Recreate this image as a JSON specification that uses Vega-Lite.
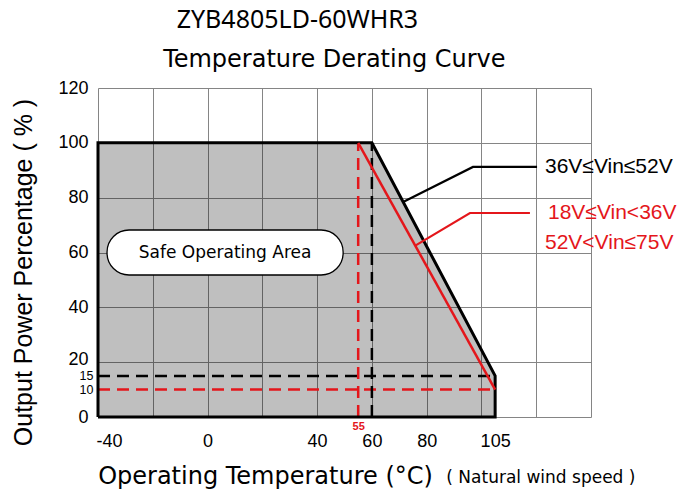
{
  "$schema": "https://vega.github.io/schema/vega-lite/v6.json",
  "width": 493,
  "height": 329,
  "autosize": {"type": "none"},
  "padding": {"left": 98, "top": 88, "right": 90, "bottom": 77},
  "background": "white",
  "config": {"view": {"stroke": null}},
  "layer": [
    {
      "data": {"values": [
        {"t": -40, "p": 100},
        {"t": 60, "p": 100},
        {"t": 105, "p": 15}
      ]},
      "mark": {"type": "area", "fill": "black", "fillOpacity": 0.25},
      "encoding": {
        "x": {
          "field": "t", "type": "quantitative",
          "scale": {"domain": [-40, 140], "nice": false, "zero": false},
          "axis": {
            "title": "Operating Temperature (°C)",
            "values": [-40, -20, 0, 20, 40, 55, 60, 80, 100, 105, 120, 140],
            "labelExpr": "indexof([-40, 0, 40, 55, 60, 80, 105], datum.value) >= 0 ? (datum.value < 0 ? '-' + abs(datum.value) : '' + datum.value) : ''",
            "grid": true,
            "gridColor": "#858585",
            "gridWidth": 1,
            "gridOpacity": {"condition": {"test": "datum.value == 55 || datum.value == 105", "value": 0}, "value": 1},
            "ticks": false,
            "domain": false,
            "labelFlush": false,
            "labelOverlap": false,
            "labelFont": "Liberation Sans",
            "labelFontSize": {"condition": {"test": "datum.value == 55", "value": 11}, "value": 18},
            "labelFontWeight": {"condition": {"test": "datum.value == 55", "value": "bold"}, "value": "normal"},
            "labelColor": {"condition": {"test": "datum.value == 55", "value": "#e4161b"}, "value": "black"},
            "labelPadding": {"condition": {"test": "datum.value == 55", "value": 3}, "value": 15},
            "labelOffset": {"condition": {"test": "datum.value == -40", "value": 11}, "value": 0},
            "titleFont": "DejaVu Sans",
            "titleFontSize": 24,
            "titleFontWeight": "normal",
            "titleColor": "black",
            "titleX": 167,
            "titleY": 66,
            "titleAlign": "center",
            "titleBaseline": "alphabetic"
          }
        },
        "y": {
          "field": "p", "type": "quantitative",
          "scale": {"domain": [0, 120], "nice": false, "zero": false},
          "axis": {
            "title": "Output Power Percentage ( % )",
            "values": [0, 10, 15, 20, 40, 60, 80, 100, 120],
            "grid": true,
            "gridColor": "#858585",
            "gridWidth": 1,
            "gridOpacity": {"condition": {"test": "datum.value == 10 || datum.value == 15", "value": 0}, "value": 1},
            "ticks": false,
            "domain": false,
            "labelFlush": false,
            "labelOverlap": false,
            "labelFont": "Liberation Sans",
            "labelFontSize": {"condition": {"test": "datum.value == 10 || datum.value == 15", "value": 12.5}, "value": 18},
            "labelPadding": {"condition": {"test": "datum.value == 10 || datum.value == 15", "value": 5}, "value": 10},
            "labelOffset": {"condition": {"test": "datum.value == 20", "value": -3}, "value": 0},
            "labelColor": "black",
            "titleFont": "Liberation Sans",
            "titleFontSize": 25,
            "titleFontWeight": "normal",
            "titleColor": "black",
            "titleAngle": 270,
            "titleX": -67,
            "titleY": 184,
            "titleAlign": "center",
            "titleBaseline": "alphabetic"
          }
        },
        "y2": {"datum": 0}
      }
    },
    {
      "data": {"values": [
        {"series": "36V-52V", "t": -40, "t2": 104, "p": 15, "p2": 15},
        {"series": "other", "t": -40, "t2": 105, "p": 10, "p2": 10},
        {"series": "36V-52V", "t": 60, "t2": 60, "p": 0, "p2": 100},
        {"series": "other", "t": 55, "t2": 55, "p": 0, "p2": 100}
      ]},
      "mark": {"type": "rule", "strokeWidth": 2.5, "strokeDash": [12, 7]},
      "encoding": {
        "x": {"field": "t", "type": "quantitative"},
        "x2": {"field": "t2"},
        "y": {"field": "p", "type": "quantitative"},
        "y2": {"field": "p2"},
        "color": {"field": "series", "type": "nominal", "scale": {"domain": ["36V-52V", "other"], "range": ["black", "#e4161b"]}, "legend": null}
      }
    },
    {
      "data": {"values": [
        {"o": 1, "t": -40, "p": 0},
        {"o": 2, "t": -40, "p": 100},
        {"o": 3, "t": 60, "p": 100},
        {"o": 4, "t": 105, "p": 15},
        {"o": 5, "t": 105, "p": 0},
        {"o": 6, "t": -40, "p": 0}
      ]},
      "mark": {"type": "line", "color": "black", "strokeWidth": 3, "strokeJoin": "miter"},
      "encoding": {
        "x": {"field": "t", "type": "quantitative"},
        "y": {"field": "p", "type": "quantitative"},
        "order": {"field": "o", "type": "quantitative"}
      }
    },
    {
      "data": {"values": [
        {"o": 1, "t": 55, "p": 100},
        {"o": 2, "t": 105, "p": 10}
      ]},
      "mark": {"type": "line", "color": "#e4161b", "strokeWidth": 2.5},
      "encoding": {
        "x": {"field": "t", "type": "quantitative"},
        "y": {"field": "p", "type": "quantitative"},
        "order": {"field": "o", "type": "quantitative"}
      }
    },
    {
      "data": {"values": [
        {"series": "36V-52V", "o": 1, "t": 71.4, "p": 78.4},
        {"series": "36V-52V", "o": 2, "t": 96.9, "p": 91.2},
        {"series": "36V-52V", "o": 3, "t": 120.3, "p": 91.2},
        {"series": "other", "o": 1, "t": 76.0, "p": 62.6},
        {"series": "other", "o": 2, "t": 95.8, "p": 74.4},
        {"series": "other", "o": 3, "t": 117.7, "p": 74.4}
      ]},
      "mark": {"type": "line", "strokeWidth": 2.2},
      "encoding": {
        "x": {"field": "t", "type": "quantitative"},
        "y": {"field": "p", "type": "quantitative"},
        "order": {"field": "o", "type": "quantitative"},
        "color": {"field": "series", "type": "nominal", "scale": {"domain": ["36V-52V", "other"], "range": ["black", "#e4161b"]}, "legend": null}
      }
    },
    {
      "data": {"values": [
        {"series": "36V-52V", "t": 123.2, "p": 91.2, "label": "36V≤Vin≤52V"},
        {"series": "other", "t": 124.3, "p": 74.4, "label": "18V≤Vin<36V"},
        {"series": "other", "t": 123.2, "p": 63.5, "label": "52V<Vin≤75V"}
      ]},
      "mark": {"type": "text", "align": "left", "baseline": "middle", "font": "Liberation Sans", "fontSize": 21},
      "encoding": {
        "x": {"field": "t", "type": "quantitative"},
        "y": {"field": "p", "type": "quantitative"},
        "text": {"field": "label"},
        "color": {"field": "series", "type": "nominal", "scale": {"domain": ["36V-52V", "other"], "range": ["black", "#e4161b"]}, "legend": null}
      }
    },
    {
      "data": {"values": [
        {"t": -36.7, "t2": 49.5, "p": 51.8, "p2": 68.2}
      ]},
      "mark": {"type": "rect", "fill": "white", "stroke": "black", "strokeWidth": 1.3, "cornerRadius": 22},
      "encoding": {
        "x": {"field": "t", "type": "quantitative"},
        "x2": {"field": "t2"},
        "y": {"field": "p", "type": "quantitative"},
        "y2": {"field": "p2"}
      }
    },
    {
      "data": {"values": [
        {"t": 6.4, "p": 59.8, "label": "Safe Operating Area"}
      ]},
      "mark": {"type": "text", "align": "center", "baseline": "middle", "font": "DejaVu Sans", "fontSize": 17, "color": "black"},
      "encoding": {
        "x": {"field": "t", "type": "quantitative"},
        "y": {"field": "p", "type": "quantitative"},
        "text": {"field": "label"}
      }
    },
    {
      "data": {"values": [
        {"t": 32.8, "p": 141.9, "label": "ZYB4805LD-60WHR3"}
      ]},
      "mark": {"type": "text", "align": "center", "baseline": "alphabetic", "font": "Noto Sans", "fontSize": 25, "color": "black"},
      "encoding": {
        "x": {"field": "t", "type": "quantitative"},
        "y": {"field": "p", "type": "quantitative"},
        "text": {"field": "label"}
      }
    },
    {
      "data": {"values": [
        {"t": 46.3, "p": 127.7, "label": "Temperature Derating Curve"}
      ]},
      "mark": {"type": "text", "align": "center", "baseline": "alphabetic", "font": "DejaVu Sans", "fontSize": 24, "color": "black"},
      "encoding": {
        "x": {"field": "t", "type": "quantitative"},
        "y": {"field": "p", "type": "quantitative"},
        "text": {"field": "label"}
      }
    },
    {
      "data": {"values": [
        {"t": 121.7, "p": -24.1, "label": "( Natural wind speed )"}
      ]},
      "mark": {"type": "text", "align": "center", "baseline": "alphabetic", "font": "DejaVu Sans", "fontSize": 17, "color": "black"},
      "encoding": {
        "x": {"field": "t", "type": "quantitative"},
        "y": {"field": "p", "type": "quantitative"},
        "text": {"field": "label"}
      }
    }
  ]
}
